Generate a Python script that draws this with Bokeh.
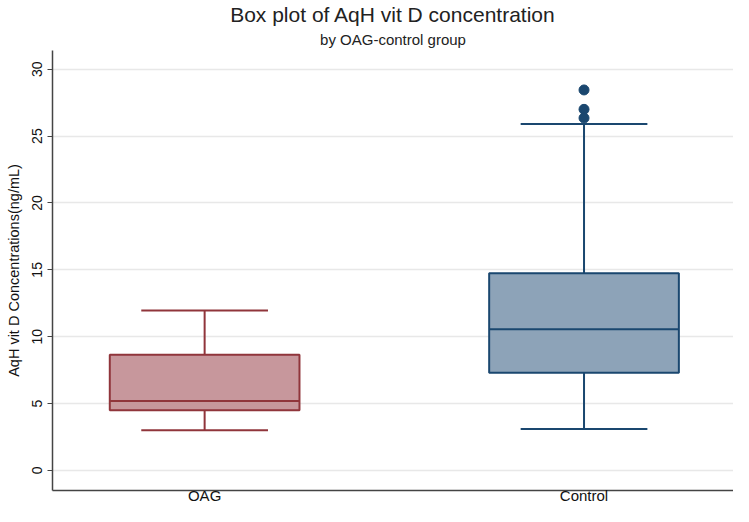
from bokeh.plotting import figure
from bokeh.models import Range1d, FixedTicker, Title, ColumnDataSource
from bokeh.embed import file_html
from bokeh.resources import INLINE

# ---- data ----
groups = ["OAG", "Control"]
xpos = [1, 2]
q1 = [4.5, 7.3]
median = [5.2, 10.55]
q3 = [8.65, 14.75]
whisker_low = [3.0, 3.1]
whisker_high = [11.95, 25.9]
outlier_group = [2, 2, 2]
outlier_values = [28.45, 27.0, 26.35]
fill_colors = ["#c7979c", "#8da3b8"]
line_colors = ["#90353b", "#1a476f"]
yticks = [0, 5, 10, 15, 20, 25, 30]

FONT = "Liberation Sans"
box_w = 0.5
cap_w = 0.334

p = figure(width=733, height=506, output_backend="svg", toolbar_location=None,
           x_range=Range1d(0.599, 2.394), y_range=Range1d(-1.5, 31.4),
           min_border_left=52, min_border_right=0, min_border_top=0, min_border_bottom=0)
p.title.text = ""
p.title.visible = False
p.outline_line_color = None
p.background_fill_color = "white"
p.border_fill_color = "white"

sub = Title(text="by OAG-control group", align="center", text_font=FONT,
            text_font_size="15px", text_font_style="normal", text_color="#222222",
            standoff=6)
p.add_layout(sub, "above")
main = Title(text="Box plot of AqH vit D concentration", align="center", text_font=FONT,
             text_font_size="21px", text_font_style="normal", text_color="#222222",
             standoff=0)
p.add_layout(main, "above")

src = ColumnDataSource(dict(x=xpos, q1=q1, med=median, q3=q3, lo=whisker_low, hi=whisker_high,
                            fc=fill_colors, lc=line_colors,
                            x0=[v - box_w / 2 for v in xpos], x1=[v + box_w / 2 for v in xpos],
                            c0=[v - cap_w / 2 for v in xpos], c1=[v + cap_w / 2 for v in xpos]))

# whiskers
p.segment(x0="x", y0="q3", x1="x", y1="hi", source=src, line_color="lc", line_width=2)
p.segment(x0="x", y0="q1", x1="x", y1="lo", source=src, line_color="lc", line_width=2)
# caps
p.segment(x0="c0", y0="hi", x1="c1", y1="hi", source=src, line_color="lc", line_width=2)
p.segment(x0="c0", y0="lo", x1="c1", y1="lo", source=src, line_color="lc", line_width=2)
# boxes
p.vbar(x="x", width=box_w, bottom="q1", top="q3", source=src, fill_color="fc",
       line_color="lc", line_width=2)
# medians
p.segment(x0="x0", y0="med", x1="x1", y1="med", source=src, line_color="lc", line_width=2)
# outliers
p.scatter(outlier_group, outlier_values, size=10, marker="circle",
          fill_color="#1a476f", line_color="#1a476f")

# axes
p.xaxis.ticker = FixedTicker(ticks=xpos)
p.xaxis.major_label_overrides = {1: groups[0], 2: groups[1]}
p.xaxis.major_tick_out = 0
p.xaxis.major_tick_in = 0
p.xaxis.minor_tick_out = 0
p.xaxis.minor_tick_in = 0
p.xaxis.major_label_standoff = -4
p.xaxis.axis_label = None
p.xaxis.axis_label_standoff = 0
p.xaxis.major_label_text_font = FONT
p.xaxis.major_label_text_font_size = "15px"
p.xaxis.major_label_text_color = "#111111"
p.xaxis.axis_line_color = "#444444"
p.xaxis.axis_line_width = 1.5

p.yaxis.ticker = FixedTicker(ticks=yticks)
p.yaxis.major_tick_out = 5
p.yaxis.major_tick_in = 0
p.yaxis.minor_tick_out = 0
p.yaxis.minor_tick_in = 0
p.yaxis.major_label_orientation = "vertical"
p.yaxis.major_label_standoff = 5
p.yaxis.major_label_text_font = FONT
p.yaxis.major_label_text_font_size = "14px"
p.yaxis.major_label_text_color = "#111111"
p.yaxis.axis_line_color = "#444444"
p.yaxis.axis_line_width = 1.5
p.yaxis.major_tick_line_color = "#444444"
p.yaxis.axis_label = "AqH vit D Concentrations(ng/mL)"
p.yaxis.axis_label_text_font = FONT
p.yaxis.axis_label_text_font_size = "14.5px"
p.yaxis.axis_label_text_font_style = "normal"
p.yaxis.axis_label_text_color = "#111111"
p.yaxis.axis_label_standoff = 8

p.xgrid.grid_line_color = None
p.ygrid.ticker = FixedTicker(ticks=yticks)
p.ygrid.grid_line_color = "#e8e8e8"
p.ygrid.grid_line_width = 1.5

open("out.html", "w").write(file_html(p, INLINE))
